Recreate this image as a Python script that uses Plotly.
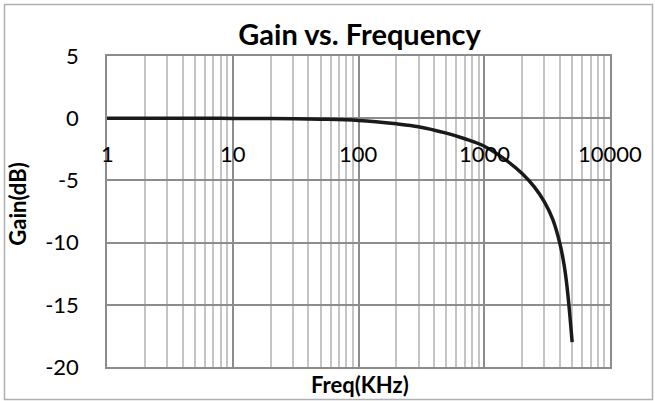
import plotly.graph_objects as go
import math

freq_khz = [1, 2, 5, 10, 20, 50, 100, 200, 300, 500, 700, 1000, 1500, 2000, 2500, 3000, 3500, 4000, 4300, 4500, 4700, 5000]
gain_db = [0.0, 0.0, 0.0, -0.02, -0.03, -0.08, -0.18, -0.45, -0.68, -1.2, -1.65, -2.25, -3.39, -4.45, -5.52, -6.71, -8.12, -10.1, -11.7, -13.1, -14.9, -18.0]
x_ticks = [1, 10, 100, 1000, 10000]
y_ticks = [5, 0, -5, -10, -15, -20]

FONT = "Lato"

fig = go.Figure()
fig.add_trace(go.Scatter(
    x=freq_khz, y=gain_db, mode="lines",
    line=dict(color="#1a1a1a", width=3.5, shape="spline", smoothing=1.0),
    showlegend=False, hoverinfo="skip",
))

# x tick labels drawn at the y=0 crossing (Excel style)
for v in x_ticks:
    fig.add_annotation(
        x=math.log10(v), y=0, xref="x", yref="y", text=str(v),
        showarrow=False, yanchor="middle", xanchor="center", yshift=-35,
        font=dict(family=FONT, size=22, color="#000000"),
    )

fig.add_annotation(
    xref="paper", yref="paper", x=-0.177, y=0.525, text="<b>Gain(dB)</b>",
    textangle=-90, showarrow=False, xanchor="center", yanchor="middle",
    font=dict(family=FONT, size=22, color="#000000"),
)
fig.add_annotation(
    xref="paper", yref="paper", x=0.502, y=0, text="<b>Freq(KHz)</b>",
    showarrow=False, xanchor="center", yanchor="middle", yshift=-17,
    font=dict(family=FONT, size=22, color="#000000"),
)

fig.add_shape(
    type="rect", xref="paper", yref="paper",
    x0=-0.2038, x1=1.0845, y0=-0.1045, y1=1.1656,
    line=dict(color="#b0b0b0", width=1.5), fillcolor="rgba(0,0,0,0)", layer="below",
)

fig.update_layout(
    width=655, height=401,
    margin=dict(l=107, r=45, t=56, b=34),
    paper_bgcolor="white", plot_bgcolor="white",
    title=dict(text="<b>Gain vs. Frequency</b>", x=0.549, xref="container",
               y=1 - 35 / 401, yref="container", xanchor="center", yanchor="middle",
               font=dict(family=FONT, size=29, color="#000000")),
    xaxis=dict(
        type="log", range=[0, 4], showticklabels=False, ticks="",
        tickvals=x_ticks,
        showgrid=True, gridcolor="#8c8c8c", gridwidth=1.5,
        minor=dict(dtick="D1", showgrid=True, gridcolor="#c4c4c4", gridwidth=1.5, ticks=""),
        showline=True, linecolor="#8c8c8c", linewidth=1.5, mirror=True,
        zeroline=False,
    ),
    yaxis=dict(
        range=[-20, 5], tickvals=y_ticks, ticktext=[str(v) for v in y_ticks],
        showgrid=True, gridcolor="#8c8c8c", gridwidth=1.5,
        showline=True, linecolor="#8c8c8c", linewidth=1.5, mirror=True,
        zeroline=False, ticks="", ticklabelstandoff=22,
        tickfont=dict(family=FONT, size=22, color="#000000"),
    ),
)

fig.write_html("out.html", config={"displayModeBar": False},
               post_script="document.body.style.margin='0px';document.body.style.padding='0px';")
